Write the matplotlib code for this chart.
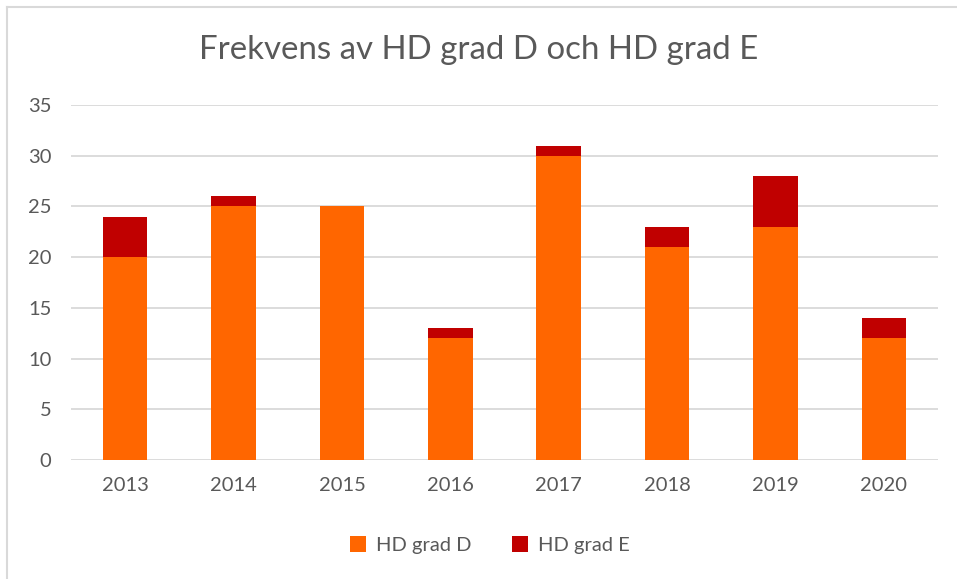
import numpy as np
import matplotlib.pyplot as plt

# Data
years = ["2013", "2014", "2015", "2016", "2017", "2018", "2019", "2020"]
grad_d = [20, 25, 25, 12, 30, 21, 23, 12]
grad_e = [4, 1, 0, 1, 1, 2, 5, 2]

text_col = "#595959"
plt.rcParams['font.family'] = ['Lato', 'DejaVu Sans']

fig = plt.figure(figsize=(9.57, 5.79), dpi=100)
ax = fig.add_axes([71 / 957, 1 - 460 / 579, (938 - 71) / 957, (460 - 105) / 579])

x = np.arange(len(years))
ax.bar(x, grad_d, width=0.41, color="#FF6600", label="HD grad D", zorder=3)
ax.bar(x, grad_e, width=0.41, bottom=grad_d, color="#C00000", label="HD grad E", zorder=3)

ax.set_xlim(-0.5, len(years) - 0.5)
ax.set_ylim(0, 35)
ax.set_yticks(range(0, 36, 5))
ax.set_xticks(x)
ax.set_xticklabels(years)
ax.yaxis.grid(True, color="#D9D9D9", linewidth=1.3, zorder=0)
for s in ax.spines.values():
    s.set_visible(False)
ax.tick_params(length=0, labelsize=14.5, labelcolor=text_col)
ax.tick_params(axis='x', pad=12)
ax.tick_params(axis='y', pad=14)

fig.suptitle("Frekvens av HD grad D och HD grad E", y=0.94, fontsize=23.8,
             color=text_col, fontweight='normal')

fig.legend(loc='center', bbox_to_anchor=(490 / 957, 1 - 545 / 579), ncol=2,
           frameon=False, fontsize=14.5, labelcolor=text_col, handlelength=0.8,
           handleheight=0.8, columnspacing=2.0, handletextpad=0.5)

# chart frame (left and top edges visible)
fig.add_artist(plt.Line2D([7 / 957, 7 / 957], [0, 1 - 7 / 579], color="#D9D9D9", lw=1.5))
fig.add_artist(plt.Line2D([7 / 957, 1], [1 - 7 / 579, 1 - 7 / 579], color="#D9D9D9", lw=1.5))

fig.savefig("out.png", dpi=100)
